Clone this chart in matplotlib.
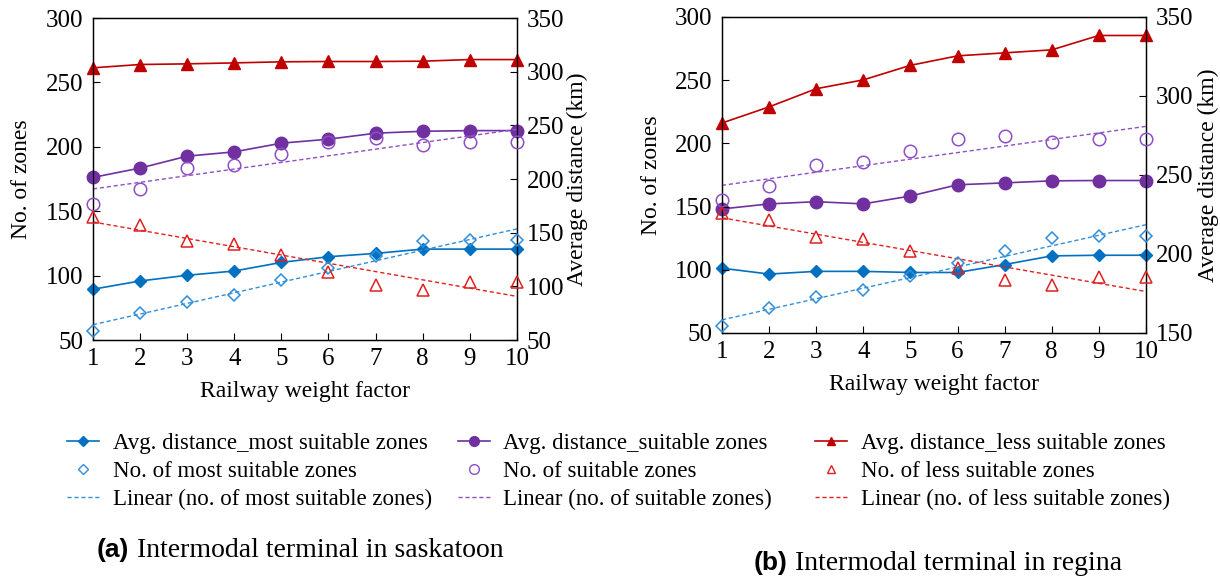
import matplotlib.pyplot as plt
import numpy as np
from matplotlib.lines import Line2D

plt.rcParams["font.family"] = ["Liberation Serif", "DejaVu Serif"]

weights = np.arange(1, 11)

# (a) Saskatoon
sk_dist_most = [97.3, 105.0, 110.3, 114.3, 122.3, 127.6, 130.7, 134.7, 134.7, 134.7]
sk_dist_suit = [201.5, 210.2, 221.3, 225.3, 233.4, 237.1, 242.7, 244.5, 245.1, 245.1]
sk_dist_less = [303.6, 306.7, 307.3, 308.2, 309.2, 309.5, 309.5, 309.8, 311.3, 311.3]
sk_no_most = [57.0, 70.6, 79.4, 85.3, 96.4, 105.9, 115.2, 126.5, 127.3, 127.3]
sk_no_suit = [155.7, 167.0, 183.2, 185.8, 194.3, 203.4, 206.7, 201.3, 203.6, 203.6]
sk_no_less = [145.4, 139.4, 126.8, 124.7, 116.2, 102.8, 93.0, 89.2, 95.1, 95.1]

# (b) Regina
rg_dist_most = [191.0, 187.3, 189.0, 189.0, 188.3, 188.3, 193.3, 198.8, 199.2, 199.2]
rg_dist_suit = [228.5, 231.7, 233.1, 231.7, 236.7, 243.8, 245.0, 246.3, 246.5, 246.5]
rg_dist_less = [282.9, 293.1, 304.6, 310.2, 319.4, 325.4, 327.3, 329.2, 338.3, 338.3]
rg_no_most = [55.2, 69.5, 78.1, 84.1, 95.1, 105.2, 114.6, 125.3, 126.6, 126.6]
rg_no_suit = [155.0, 166.4, 183.1, 185.4, 194.3, 203.4, 206.0, 201.0, 203.4, 203.4]
rg_no_less = [145.0, 139.0, 126.3, 124.2, 114.6, 101.8, 91.9, 88.3, 94.3, 94.3]

BLUE = "#0070C0"
BLUE_L = "#2E8FDB"
PURPLE = "#7030A0"
PURPLE_L = "#8E4FC6"
RED = "#C00000"
RED_L = "#E02020"

DASH = (0, (3, 2))


def draw_panel(ax, dist, counts, right_lim, right_ticks, ylab_pad, y2lab_pad):
    ax2 = ax.twinx()
    markers = ["D", "o", "^"]
    sizes = [6, 9, 8]
    dark = [BLUE, PURPLE, RED]
    light = [BLUE_L, PURPLE_L, RED_L]
    for d, c, m, ms, col, lcol in zip(dist, counts, markers, sizes, dark, light):
        ax2.plot(weights, d, color=col, marker=m, markersize=ms, lw=1.2, clip_on=False, zorder=3)
        ax.plot(weights, c, ls="none", marker=m, markersize=ms, markerfacecolor="none",
                markeredgecolor=lcol, markeredgewidth=1.1, clip_on=False, zorder=3)
        # trend line fitted to the counts
        slope, icpt = np.polyfit(weights, c, 1)
        ax.plot(weights, slope * weights + icpt, color=lcol, lw=1.0, ls=DASH, zorder=2)

    ax.set_xlim(1, 10)
    ax.set_ylim(50, 300)
    ax.set_xticks(weights)
    ax.set_yticks([50, 100, 150, 200, 250, 300])
    ax2.set_ylim(*right_lim)
    ax2.set_yticks(right_ticks)
    ax.set_xlabel("Railway weight factor", fontsize=17, labelpad=8)
    ax.set_ylabel("No. of zones", fontsize=17, labelpad=ylab_pad)
    ax2.set_ylabel("Average distance (km)", fontsize=17, labelpad=y2lab_pad)
    for a in (ax, ax2):
        a.tick_params(labelsize=18, direction="in", length=5, width=0.8, pad=7)
        for sp in a.spines.values():
            sp.set_linewidth(0.9)
    ax.tick_params(axis="x", pad=6)
    ax.tick_params(axis="y", right=False)
    ax.set_zorder(ax2.get_zorder() + 1)
    ax.patch.set_visible(False)
    return ax2


fig = plt.figure(figsize=(12.2, 5.76), dpi=100)
ax_a = fig.add_axes([0.0762, 0.4097, 0.3475, 0.559])
ax_b = fig.add_axes([0.5918, 0.4219, 0.3475, 0.5486])

draw_panel(ax_a, [sk_dist_most, sk_dist_suit, sk_dist_less],
           [sk_no_most, sk_no_suit, sk_no_less], (50, 350), [50, 100, 150, 200, 250, 300, 350], 10, 2)
draw_panel(ax_b, [rg_dist_most, rg_dist_suit, rg_dist_less],
           [rg_no_most, rg_no_suit, rg_no_less], (150, 350), [150, 200, 250, 300, 350], 9, 3)

legend_groups = [
    (BLUE, BLUE_L, "D", 5, ["Avg. distance_most suitable zones", "No. of most suitable zones",
                             "Linear (no. of most suitable zones)"], 0.055),
    (PURPLE, PURPLE_L, "o", 7, ["Avg. distance_suitable zones", "No. of suitable zones",
                                 "Linear (no. of suitable zones)"], 0.375),
    (RED, RED_L, "^", 6, ["Avg. distance_less suitable zones", "No. of less suitable zones",
                           "Linear (no. of less suitable zones)"], 0.668),
]
for col, lcol, m, ms, labels, x0 in legend_groups:
    handles = [
        Line2D([], [], color=col, marker=m, markersize=ms, lw=1.2),
        Line2D([], [], ls="none", marker=m, markersize=ms, markerfacecolor="none",
               markeredgecolor=lcol, markeredgewidth=1.0),
        Line2D([], [], color=lcol, lw=1.0, ls=DASH),
    ]
    fig.legend(handles, labels, loc="upper left", bbox_to_anchor=(x0, 0.249), frameon=False,
               fontsize=16.5, handlelength=1.4, handletextpad=0.6, labelspacing=0.3,
               borderaxespad=0, borderpad=0)

fig.text(0.079, 0.045, "(a)", fontsize=19, fontweight="bold", family="Liberation Sans", va="center")
fig.text(0.112, 0.045, "Intermodal terminal in saskatoon", fontsize=20, va="center")
fig.text(0.618, 0.022, "(b)", fontsize=19, fontweight="bold", family="Liberation Sans", va="center")
fig.text(0.652, 0.022, "Intermodal terminal in regina", fontsize=20, va="center")

fig.savefig("out.png", dpi=100)
